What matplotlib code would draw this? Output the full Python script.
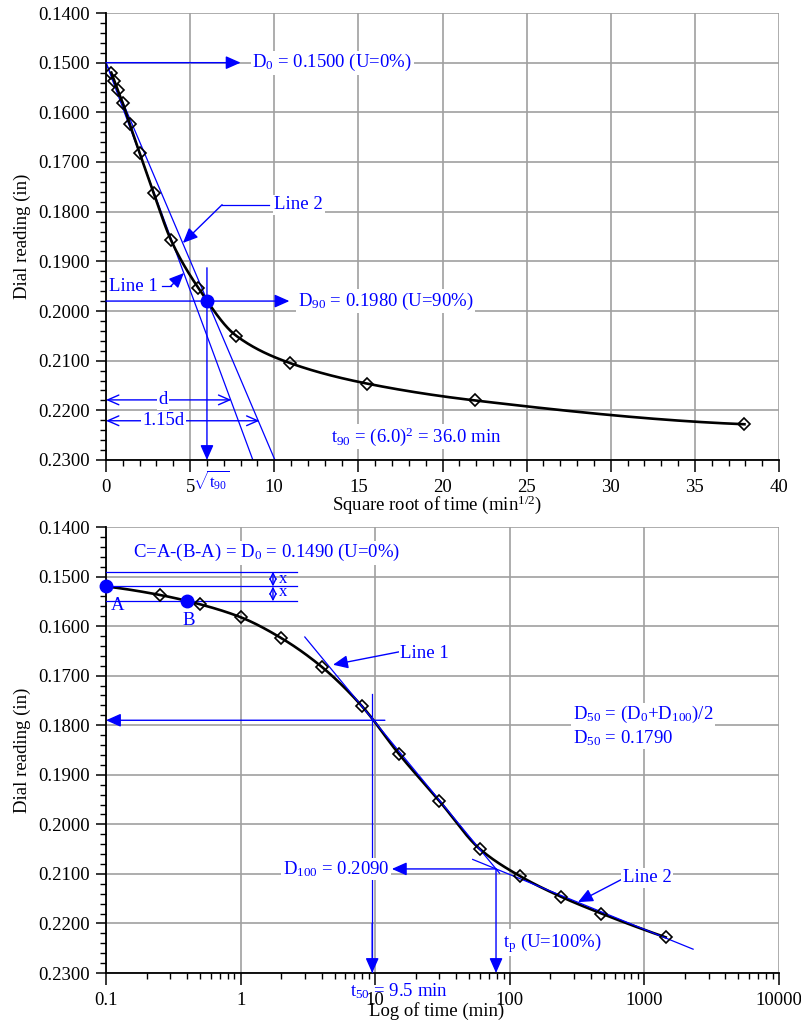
import numpy as np
import matplotlib
matplotlib.use("Agg")
import matplotlib.pyplot as plt
from matplotlib.ticker import MultipleLocator, FixedLocator, LogLocator, NullFormatter, FixedFormatter

plt.rcParams['font.family'] = ['Liberation Serif', 'DejaVu Serif']
plt.rcParams['mathtext.fontset'] = 'custom'
plt.rcParams['mathtext.rm'] = 'Liberation Serif'
plt.rcParams['mathtext.it'] = 'Liberation Serif'
plt.rcParams['mathtext.bf'] = 'Liberation Serif:bold'
plt.rcParams['mathtext.default'] = 'regular'

# ---------------- data ----------------
time_min = [0.1, 0.25, 0.5, 1, 2, 4, 8, 15, 30, 60, 120, 240, 480, 1440]
dial_in = [0.1520, 0.1537, 0.1556, 0.1582, 0.1624, 0.1682, 0.1762,
           0.1858, 0.1953, 0.2050, 0.2105, 0.2146, 0.2180, 0.2228]

y_ticks = [0.14, 0.15, 0.16, 0.17, 0.18, 0.19, 0.20, 0.21, 0.22, 0.23]
sqrt_ticks = [0, 5, 10, 15, 20, 25, 30, 35, 40]
log_ticks = [0.1, 1, 10, 100, 1000, 10000]
log_tick_labels = ['0.1', '1', '10', '100', '1000', '10000']

# square-root-of-time method
D0_sqrt = 0.1500
D90 = 0.1980
sqrt_t90 = 6.0
t90 = 36.0
line1_sqrt_end = 8.73          # sqrt(t) where Line 1 reaches 0.2300
line2_factor = 1.15

# log-of-time method
A_pt = (0.1, 0.1520)
B_pt = (0.4, 0.1550)
D0_log = 0.1490
D100 = 0.2090
D50 = 0.1790
t50 = 9.5
tp = 79.0
line1_log_slope = 0.03295      # dial change per log-cycle (Line 1)
line2_log_slope = 0.01106      # dial change per log-cycle (Line 2)

BLUE = '#0000ff'
FS = 13.5


def pchip(x, y, xs):
    x = np.asarray(x, float); y = np.asarray(y, float)
    h = np.diff(x); d = np.diff(y) / h
    n = len(x); m = np.zeros(n)
    for k in range(1, n - 1):
        if d[k - 1] * d[k] > 0:
            w1 = 2 * h[k] + h[k - 1]; w2 = h[k] + 2 * h[k - 1]
            m[k] = (w1 + w2) / (w1 / d[k - 1] + w2 / d[k])

    def end(h0, h1, d0, d1):
        mm = ((2 * h0 + h1) * d0 - h0 * d1) / (h0 + h1)
        if np.sign(mm) != np.sign(d0):
            mm = 0.0
        elif np.sign(d0) != np.sign(d1) and abs(mm) > abs(3 * d0):
            mm = 3 * d0
        return mm
    m[0] = end(h[0], h[1], d[0], d[1])
    m[-1] = end(h[-1], h[-2], d[-1], d[-2])
    idx = np.clip(np.searchsorted(x, xs) - 1, 0, n - 2)
    t = (xs - x[idx]) / h[idx]
    h00 = 2 * t**3 - 3 * t**2 + 1
    h10 = t**3 - 2 * t**2 + t
    h01 = -2 * t**3 + 3 * t**2
    h11 = t**3 - t**2
    return h00 * y[idx] + h10 * h[idx] * m[idx] + h01 * y[idx + 1] + h11 * h[idx] * m[idx + 1]


def arrow(ax, start, end, style='-|>', hl=0.9, hw=0.4, lw=1.0, ms=10, z=4):
    ax.annotate('', xy=end, xytext=start,
                arrowprops=dict(arrowstyle=f'{style},head_length={hl},head_width={hw}',
                                color=BLUE, lw=lw, shrinkA=0, shrinkB=0,
                                mutation_scale=ms),
                annotation_clip=False, zorder=z)


WB = dict(facecolor='white', edgecolor='none', pad=1.0)


def btext(ax, x, y, s, bbox=True, **kw):
    kw.setdefault('fontsize', FS)
    kw.setdefault('va', 'center')
    t = ax.text(x, y, s, color=BLUE, zorder=6, **kw)
    if bbox:
        t.set_bbox(dict(facecolor='white', edgecolor='none', boxstyle='square,pad=0.08'))
    return t


def style_axes(ax):
    ax.set_ylim(0.23, 0.14)
    ax.yaxis.set_major_locator(FixedLocator(y_ticks))
    ax.yaxis.set_major_formatter(FixedFormatter([f'{v:.4f}' for v in y_ticks]))
    ax.yaxis.set_minor_locator(MultipleLocator(0.002))
    for s in ['top', 'right']:
        ax.spines[s].set_visible(False)
    for s in ['left', 'bottom']:
        ax.spines[s].set_linewidth(1.3)
    ax.tick_params(axis='y', which='major', direction='out', length=7.5, width=1.1,
                   pad=4, labelsize=FS)
    ax.tick_params(axis='y', which='minor', direction='out', length=4.5, width=1.0)
    ax.tick_params(axis='x', which='major', direction='out', length=8.5, width=1.1,
                   pad=5, labelsize=FS)
    ax.tick_params(axis='x', which='minor', direction='out', length=4.5, width=1.0)
    ax.grid(True, which='major', color='#a0a0a0', lw=1.2, zorder=0)
    ax.set_axisbelow(True)
    ax.set_ylabel('Dial reading (in)', fontsize=FS)
    ax.yaxis.set_label_coords(-0.112, 0.5)


fig = plt.figure(figsize=(8.01, 10.28), dpi=100)
ax1 = fig.add_axes([106 / 801, (1028 - 460) / 1028, 673 / 801, 447 / 1028])
ax2 = fig.add_axes([106 / 801, (1028 - 973) / 1028, 673 / 801, 446 / 1028])

# ================= TOP: square root of time =================
sq = np.sqrt(np.array(time_min))
dial = np.array(dial_in)
style_axes(ax1)
ax1.set_xlim(0, 40)
ax1.xaxis.set_major_locator(FixedLocator(sqrt_ticks))
ax1.xaxis.set_minor_locator(MultipleLocator(1))
ax1.set_xlabel('Square root of time (min$^{1/2}$)', fontsize=FS)
ax1.xaxis.set_label_coords(0.492, -0.074)

xs = np.linspace(sq[0], sq[-1], 600)
ax1.plot(xs, pchip(sq, dial, xs), color='black', lw=1.9, zorder=3)
ax1.plot(sq, dial, ls='none', marker='D', ms=6.5, mfc='none', mec='black', mew=1.2, zorder=5)

# Line 1 and Line 2
ax1.plot([0, line1_sqrt_end], [D0_sqrt, 0.23], color=BLUE, lw=0.9, zorder=2.5)
ax1.plot([0, line1_sqrt_end * line2_factor], [D0_sqrt, 0.23], color=BLUE, lw=0.9, zorder=2.5)

# D0
arrow(ax1, (0, D0_sqrt), (8.0, D0_sqrt))
btext(ax1, 8.7, D0_sqrt, 'D$_0$ = 0.1500 (U=0%)', ha='left')

# D90
ax1.plot([sqrt_t90], [D90], 'o', color=BLUE, ms=9, zorder=6)
arrow(ax1, (0, D90), (10.9, D90))
btext(ax1, 11.4, D90, 'D$_{90}$ = 0.1980 (U=90%)', ha='left')
arrow(ax1, (sqrt_t90, 0.1913), (sqrt_t90, 0.2300))

# Line labels
btext(ax1, 10.0, 0.1786, 'Line 2', ha='left')
ax1.plot([9.7, 6.9], [0.1786, 0.1786], color=BLUE, lw=0.9, zorder=4)
arrow(ax1, (6.9, 0.1786), (4.57, 0.1863))
btext(ax1, 0.15, 0.1950, 'Line 1', ha='left')
ax1.plot([3.35, 3.85], [0.1950, 0.1950], color=BLUE, lw=0.9, zorder=4)
arrow(ax1, (3.85, 0.1950), (4.63, 0.19235))

# d and 1.15d
arrow(ax1, (0, 0.2179), (7.45, 0.2179), style='<->', hl=0.8, hw=0.35)
btext(ax1, 3.4, 0.2179, 'd', ha='center')
arrow(ax1, (0, 0.2221), (9.12, 0.2221), style='<->', hl=0.8, hw=0.35)
btext(ax1, 3.4, 0.2221, '1.15d', ha='center')

btext(ax1, 13.4, 0.2253, 't$_{90}$ = (6.0)$^2$ = 36.0 min', ha='left')
ax1.text(6.25, 0.2340, r'$\sqrt{t_{90}}$', color=BLUE, fontsize=12, ha='center',
         va='center', clip_on=False)

# ================= BOTTOM: log of time =================
style_axes(ax2)
ax2.set_xscale('log')
ax2.set_xlim(0.1, 10000)
ax2.xaxis.set_major_locator(FixedLocator(log_ticks))
ax2.xaxis.set_major_formatter(FixedFormatter(log_tick_labels))
ax2.xaxis.set_minor_locator(LogLocator(base=10, subs=np.arange(2, 10), numticks=50))
ax2.xaxis.set_minor_formatter(NullFormatter())
ax2.set_xlabel('Log of time (min)', fontsize=FS)
ax2.xaxis.set_label_coords(0.492, -0.066)

lt = np.log10(np.array(time_min))
lxs = np.linspace(lt[0], lt[-1], 600)
ax2.plot(10**lxs, pchip(lt, dial, lxs), color='black', lw=1.9, zorder=3)
ax2.plot(time_min, dial_in, ls='none', marker='D', ms=6.5, mfc='none', mec='black',
         mew=1.2, zorder=5)

# Line 1 / Line 2 (tangents)
l1x = np.array([3.0, 84.0])
ax2.plot(l1x, D100 + line1_log_slope * (np.log10(l1x) - np.log10(tp)), color=BLUE, lw=0.9, zorder=4)
l2x = np.array([53.0, 2300.0])
ax2.plot(l2x, D100 + line2_log_slope * (np.log10(l2x) - np.log10(tp)), color=BLUE, lw=0.9, zorder=4)

# A, B, C construction
ax2.plot([A_pt[0], B_pt[0]], [A_pt[1], B_pt[1]], 'o', color=BLUE, ms=9, zorder=6, clip_on=False)
ax2.text(0.121, 0.1559, 'A', color=BLUE, fontsize=FS, ha='center', va='center')
ax2.text(0.414, 0.1588, 'B', color=BLUE, fontsize=FS, ha='center', va='center')
for yv in [D0_log, A_pt[1], B_pt[1]]:
    ax2.plot([0.1, 2.63], [yv, yv], color=BLUE, lw=0.9, zorder=4)
arrow(ax2, (1.74, D0_log), (1.74, A_pt[1]), style='<->', hl=0.45, hw=0.22)
arrow(ax2, (1.74, A_pt[1]), (1.74, B_pt[1]), style='<->', hl=0.45, hw=0.22)
ax2.text(2.07, 0.1504, 'x', color=BLUE, fontsize=12, ha='center', va='center')
ax2.text(2.07, 0.1532, 'x', color=BLUE, fontsize=12, ha='center', va='center')
btext(ax2, 1.55, 0.1452, 'C=A-(B-A) = D$_0$ = 0.1490 (U=0%)', ha='center')

# D50 / t50
arrow(ax2, (11.8, D50), (0.1, D50))
ax2.plot([t50, t50], [0.1737, 0.2300], color=BLUE, lw=0.9, zorder=4)
arrow(ax2, (t50, 0.2200), (t50, 0.2300))
btext(ax2, 294, 0.1779, 'D$_{50}$ = (D$_0$+D$_{100}$)/2', ha='left')
btext(ax2, 294, 0.1826, 'D$_{50}$ = 0.1790', ha='left')
ax2.text(6.5, 0.2336, 't$_{50}$ = 9.5 min', color=BLUE, fontsize=FS, ha='left',
         va='center', clip_on=False, zorder=6)

# D100 / tp
arrow(ax2, (tp, D100), (13.3, D100))
btext(ax2, 12.7, D100, 'D$_{100}$ = 0.2090', ha='right')
arrow(ax2, (tp, D100), (tp, 0.2300))
btext(ax2, 89, 0.2239, 't$_p$ (U=100%)', ha='left')

# Line labels
btext(ax2, 15.3, 0.1656, 'Line 1', ha='left')
arrow(ax2, (15.0, 0.1652), (4.86, 0.1678))
btext(ax2, 693, 0.2108, 'Line 2', ha='left')
arrow(ax2, (690, 0.2110), (321, 0.2157))

fig.savefig('out.png', dpi=100)
